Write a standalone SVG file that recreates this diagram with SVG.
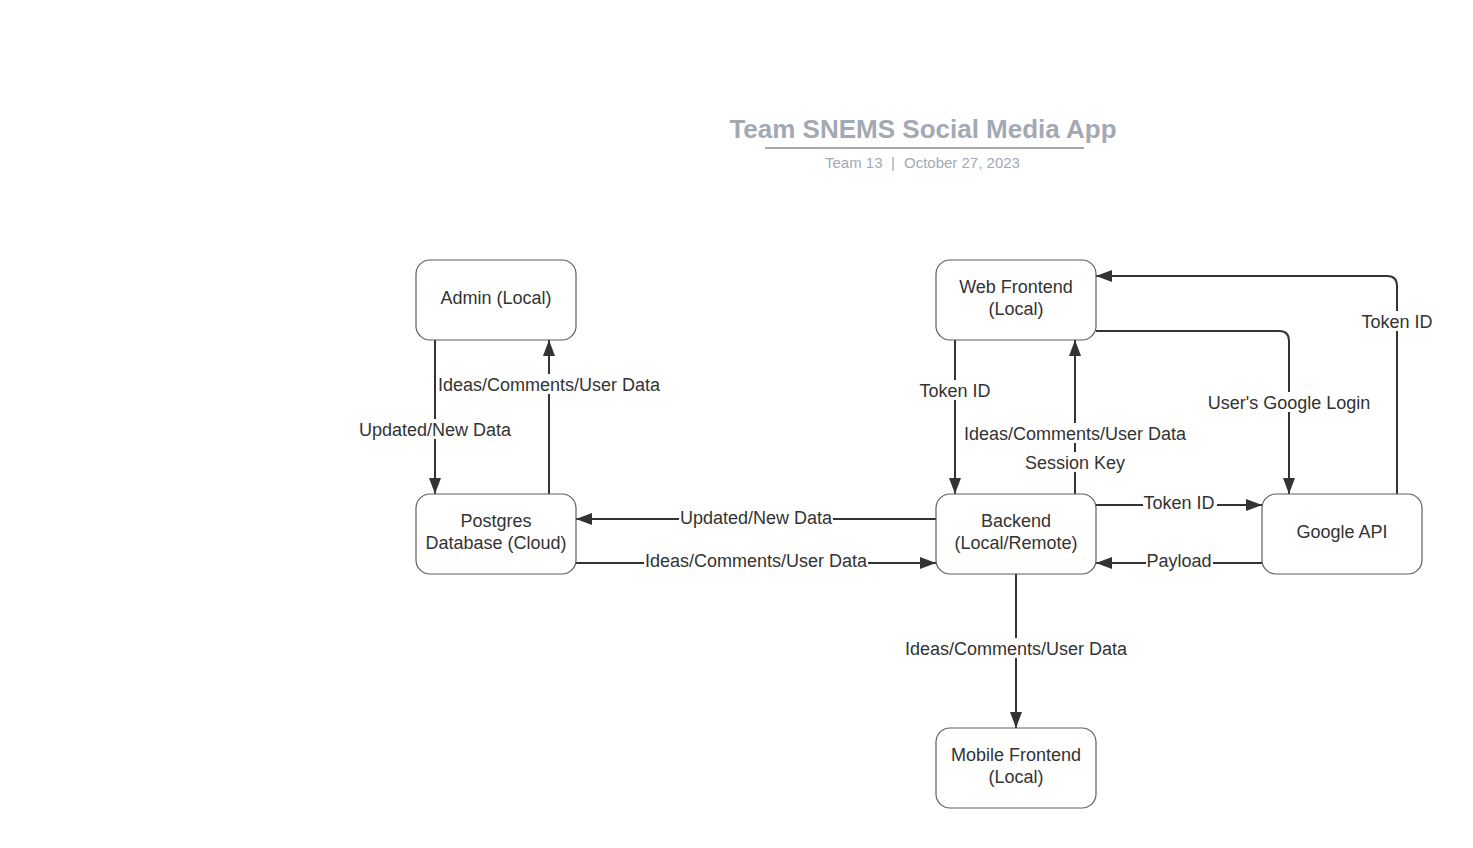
<svg xmlns="http://www.w3.org/2000/svg" width="1473" height="848" viewBox="0 0 1473 848">
<style>
.node rect{fill:#fff;stroke:#5e5e5e;stroke-width:1.2}
.node text{font-family:"Liberation Sans",Arial,sans-serif;font-size:18px;fill:#333;text-anchor:middle}
.conn path{fill:none;stroke:#333;stroke-width:2}
.lbl rect{fill:#fff;stroke:none}
.lbl text{font-family:"Liberation Sans",Arial,sans-serif;font-size:18px;fill:#333;text-anchor:middle}
.title{font-family:"Liberation Sans",Arial,sans-serif;font-weight:bold;font-size:26px;fill:#a3a9b3;text-anchor:middle}
.sub{font-family:"Liberation Sans",Arial,sans-serif;font-size:15px;fill:#a3a9b3}
</style>
<defs>
<marker id="ah" markerUnits="userSpaceOnUse" markerWidth="17" markerHeight="13" refX="16" refY="6" orient="auto">
<path d="M0,0 L16,6 L0,12 z" fill="#333"/>
</marker>
</defs>
<rect width="1473" height="848" fill="#fff"/>
<g id="title">
<text class="title" x="923" y="138">Team SNEMS Social Media App</text>
<line x1="765" y1="148" x2="1084" y2="148" stroke="#a3a9b3" stroke-width="2"/>
<text class="sub" x="825" y="168">Team 13</text>
<text class="sub" x="891" y="168">|</text>
<text class="sub" x="904" y="168">October 27, 2023</text>
</g>
<g id="connectors" class="conn">
<path d="M435,340 V494" marker-end="url(#ah)"/>
<path d="M549,494 V340" marker-end="url(#ah)"/>
<path d="M936,519 H576" marker-end="url(#ah)"/>
<path d="M576,563 H936" marker-end="url(#ah)"/>
<path d="M955,340 V494" marker-end="url(#ah)"/>
<path d="M1075,494 V340" marker-end="url(#ah)"/>
<path d="M1096,331 H1279 Q1289,331 1289,341 V494" marker-end="url(#ah)"/>
<path d="M1397,494 V286 Q1397,276 1387,276 H1096" marker-end="url(#ah)"/>
<path d="M1096,505 H1262" marker-end="url(#ah)"/>
<path d="M1262,563 H1096" marker-end="url(#ah)"/>
<path d="M1016,574 V728" marker-end="url(#ah)"/>
</g>
<g id="labels" class="lbl">
<rect x="358" y="419" width="156" height="20"/><text x="435" y="436">Updated/New Data</text>
<rect x="437" y="374" width="225" height="20"/><text x="549" y="391">Ideas/Comments/User Data</text>
<rect x="679" y="507" width="154" height="20"/><text x="756" y="524">Updated/New Data</text>
<rect x="644" y="550" width="224" height="20"/><text x="756" y="567">Ideas/Comments/User Data</text>
<rect x="918" y="380" width="75" height="20"/><text x="955" y="397">Token ID</text>
<rect x="963" y="423" width="225" height="20"/><text x="1075" y="440">Ideas/Comments/User Data</text>
<rect x="1024" y="452" width="102" height="20"/><text x="1075" y="469">Session Key</text>
<rect x="1207" y="392" width="165" height="20"/><text x="1289" y="409">User's Google Login</text>
<rect x="1360" y="311" width="75" height="20"/><text x="1397" y="328">Token ID</text>
<rect x="1143" y="492" width="74" height="20"/><text x="1179" y="509">Token ID</text>
<rect x="1146" y="550" width="67" height="20"/><text x="1179" y="567">Payload</text>
<rect x="904" y="638" width="224" height="20"/><text x="1016" y="655">Ideas/Comments/User Data</text>
</g>
<g id="admin" class="node"><rect x="416" y="260" width="160" height="80" rx="14"/><text x="496" y="304">Admin (Local)</text></g>
<g id="postgres" class="node"><rect x="416" y="494" width="160" height="80" rx="14"/><text x="496" y="527">Postgres</text><text x="496" y="549">Database (Cloud)</text></g>
<g id="web" class="node"><rect x="936" y="260" width="160" height="80" rx="14"/><text x="1016" y="293">Web Frontend</text><text x="1016" y="315">(Local)</text></g>
<g id="backend" class="node"><rect x="936" y="494" width="160" height="80" rx="14"/><text x="1016" y="527">Backend</text><text x="1016" y="549">(Local/Remote)</text></g>
<g id="google" class="node"><rect x="1262" y="494" width="160" height="80" rx="14"/><text x="1342" y="538">Google API</text></g>
<g id="mobile" class="node"><rect x="936" y="728" width="160" height="80" rx="14"/><text x="1016" y="761">Mobile Frontend</text><text x="1016" y="783">(Local)</text></g>
</svg>
